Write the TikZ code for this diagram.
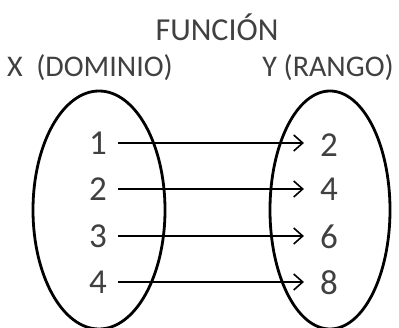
\documentclass[tikz,border=0pt]{standalone}
\usepackage{fontspec}
\setmainfont{Carlito}
\usetikzlibrary{arrows.meta,shapes.geometric}
\begin{document}
\begin{tikzpicture}[x=1pt,y=-1pt,
  lbl/.style={font=\fontsize{30}{30}\selectfont, text=black!75, inner sep=0pt, anchor=base},
  ttl/.style={font=\fontsize{32}{32}\selectfont, text=black!75, inner sep=0pt, anchor=base},
  num/.style={font=\fontsize{35}{35}\selectfont, text=black!75, inner sep=0pt},
  setbox/.style={draw, ellipse, line width=2.8pt, inner sep=0pt},
  arr/.style={line width=1.6pt, -{Straight Barb[length=9pt,width=16pt,line width=1.6pt]}}]
\useasboundingbox (0,0) rectangle (399,328);
\node[ttl] (title) at (217,41) {FUNCIÓN};
\node[lbl] (dom) at (90,77) {X\ \ (DOMINIO)};
\node[lbl] (ran) at (328,77) {Y (RANGO)};
\node[setbox, minimum width=132pt, minimum height=238pt] (X) at (99,210) {};
\node[setbox, minimum width=120pt, minimum height=238pt] (Y) at (330,210) {};
\node[num] (a1) at (98,143) {1};
\node[num] (a2) at (98,189) {2};
\node[num] (a3) at (98,236) {3};
\node[num] (a4) at (98,282) {4};
\node[num] (b1) at (329,145) {2};
\node[num] (b2) at (329,189) {4};
\node[num] (b3) at (329,237) {6};
\node[num] (b4) at (329,283) {8};
\foreach \i in {1,...,4}{
  \draw[arr] ([xshift=11pt]a\i.east) -- ([xshift=-16pt]b\i.west |- a\i.east);
}
\end{tikzpicture}
\end{document}
